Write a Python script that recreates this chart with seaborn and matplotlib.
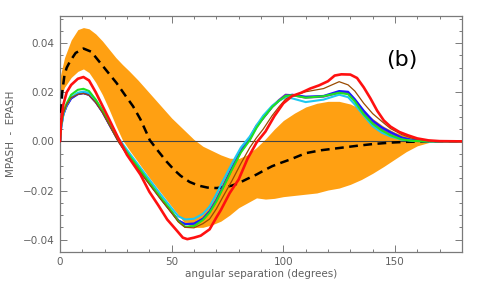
import numpy as np
import pandas as pd
import matplotlib
matplotlib.use("Agg")
import matplotlib.pyplot as plt
import seaborn as sns

# ---------------- data ----------------
# orange spread band
band_x = [0, 1, 2, 4, 6, 8, 11, 14, 18, 22, 26, 30, 34, 38, 42, 46, 50, 54, 58, 62,
          66, 70, 74, 78, 82, 86, 90, 93, 96, 100, 105, 110, 115, 120, 125, 130, 134,
          138, 142, 146, 150, 155, 160, 165, 170, 180]
band_hi = [0.026, 0.030, 0.034, 0.0395, 0.043, 0.0455, 0.0465, 0.0455, 0.042, 0.0375,
           0.033, 0.0295, 0.026, 0.0215, 0.018, 0.0135, 0.0095, 0.006, 0.0025, -0.001,
           -0.003, -0.0045, -0.0065, -0.0072, -0.0068, -0.004, -0.001, 0.002, 0.005,
           0.0085, 0.0115, 0.014, 0.0155, 0.0163, 0.0163, 0.0152, 0.0138, 0.0108,
           0.0078, 0.0055, 0.0037, 0.0022, 0.001, 0.0004, 0.0001, 0.0]
band_lo_x = [0, 2, 5, 8, 10.5, 13, 16, 19, 22, 25, 28, 31, 35, 40, 45, 50, 53, 56, 60,
             64, 68, 72, 76, 80, 84, 88, 92, 96, 100, 105, 110, 115, 120, 125, 130, 135,
             140, 145, 150, 155, 160, 165, 170, 180]
band_lo = [0.017, 0.022, 0.026, 0.0285, 0.0295, 0.028, 0.024, 0.019, 0.013, 0.0065,
           0.0005, -0.0035, -0.0085, -0.0148, -0.0207, -0.0265, -0.030, -0.0335, -0.035,
           -0.035, -0.034, -0.0325, -0.030, -0.027, -0.025, -0.023, -0.0235, -0.0232,
           -0.0225, -0.022, -0.0215, -0.021, -0.0198, -0.019, -0.0175, -0.0155, -0.013,
           -0.0102, -0.0072, -0.0042, -0.0018, -0.0005, -0.0001, 0.0]

# dashed mean curve
mean_x = [0, 0.5, 1, 2, 3, 4.5, 7, 10.5, 14, 18, 22, 25.3, 29, 32.7, 36, 38.7, 40.2, 44,
          47.6, 51, 54, 58, 62, 66, 70, 74, 77, 80, 84, 88, 92, 95, 99, 103, 110, 117,
          125, 133, 140, 148, 155, 165, 180]
mean_y = [0.0, 0.012, 0.02, 0.027, 0.030, 0.0326, 0.036, 0.0378, 0.0365, 0.032, 0.0275,
          0.0238, 0.019, 0.0143, 0.009, 0.0036, 0.0005, -0.004, -0.0081, -0.0115, -0.014,
          -0.0165, -0.018, -0.0188, -0.019, -0.0186, -0.018, -0.017, -0.0152, -0.0135,
          -0.0115, -0.0101, -0.0087, -0.0074, -0.0048, -0.0036, -0.0027, -0.0018,
          -0.0011, -0.0005, -0.0002, 0.0, 0.0]

# model curves (common angle grid)
ang = [0, 0.5, 1.5, 3, 5, 8, 10.5, 13, 16, 19, 22, 26, 30, 35, 40, 45, 50, 53, 56, 60,
       64, 67, 70, 73, 77, 81, 85, 88, 91, 95, 98, 101, 104, 110, 118, 125, 129, 132,
       136, 140, 144, 148, 153, 158, 165, 180]
purple = [0, 0.006, 0.011, 0.0145, 0.0175, 0.0192, 0.0196, 0.0189, 0.016, 0.012, 0.007,
          0.0005, -0.005, -0.011, -0.017, -0.023, -0.0288, -0.0322, -0.0337, -0.0335,
          -0.0315, -0.0285, -0.024, -0.0185, -0.0108, -0.0035, 0.0015, 0.0065, 0.0095,
          0.0142, 0.0168, 0.019, 0.0188, 0.0178, 0.0182, 0.0198, 0.0196, 0.0168, 0.012,
          0.008, 0.0052, 0.0034, 0.0014, 0.0004, 0.0, 0.0]
blue = [0, 0.006, 0.011, 0.0145, 0.0175, 0.0193, 0.0197, 0.019, 0.016, 0.012, 0.007,
        0.0005, -0.005, -0.011, -0.017, -0.023, -0.0288, -0.0322, -0.0337, -0.0335,
        -0.0315, -0.0285, -0.024, -0.0185, -0.011, -0.004, 0.001, 0.006, 0.0095, 0.014,
        0.0165, 0.0185, 0.019, 0.0182, 0.0185, 0.0205, 0.0202, 0.0172, 0.0125, 0.0085,
        0.0058, 0.0038, 0.0016, 0.0005, 0.0001, 0.0]
cyan = [0, 0.005, 0.011, 0.015, 0.018, 0.0198, 0.0203, 0.0197, 0.0168, 0.0128, 0.008,
        0.0015, -0.0035, -0.0095, -0.0155, -0.0215, -0.0272, -0.0305, -0.0318, -0.0315,
        -0.0295, -0.0265, -0.0215, -0.016, -0.009, -0.0025, 0.002, 0.0065, 0.0105,
        0.0145, 0.0165, 0.018, 0.0175, 0.016, 0.017, 0.019, 0.018, 0.015, 0.0105,
        0.0062, 0.0036, 0.002, 0.0007, 0.0002, 0.0, 0.0]
green = [0, 0.007, 0.012, 0.0155, 0.019, 0.021, 0.0214, 0.0205, 0.017, 0.0125, 0.0075,
         0.001, -0.0045, -0.0105, -0.0168, -0.0228, -0.0285, -0.0325, -0.0348, -0.0345,
         -0.032, -0.029, -0.0245, -0.019, -0.0115, -0.0045, 0.0005, 0.0055, 0.0095,
         0.014, 0.0165, 0.0185, 0.0188, 0.0178, 0.0184, 0.0198, 0.0192, 0.0163, 0.011,
         0.0072, 0.0045, 0.0025, 0.0008, 0.0002, 0.0, 0.0]
brown = [0, 0.006, 0.0115, 0.015, 0.0178, 0.0192, 0.0195, 0.0188, 0.0158, 0.0118,
         0.0068, 0.0, -0.0055, -0.0115, -0.0175, -0.0235, -0.0292, -0.0328, -0.035,
         -0.0352, -0.0335, -0.0316, -0.0275, -0.0225, -0.016, -0.009, -0.0025, 0.0015,
         0.005, 0.0105, 0.014, 0.0172, 0.0186, 0.0202, 0.0215, 0.0243, 0.023, 0.0205,
         0.0155, 0.0113, 0.0082, 0.0052, 0.0028, 0.0012, 0.0003, 0.0]

red_x = [0, 0.5, 1.5, 3, 5, 8, 10.5, 13, 16, 19, 22, 26, 30, 33, 36, 40, 44, 48, 52, 55,
         57, 60, 63, 67, 70, 72, 76, 80, 84, 88, 92, 96, 100, 104, 108, 112, 116, 120,
         123, 126, 130, 133, 136, 139, 142, 145, 148, 152, 156, 160, 165, 170, 180]
red_y = [0, 0.008, 0.015, 0.020, 0.023, 0.0255, 0.0262, 0.0248, 0.020, 0.0145, 0.009,
         0.0015, -0.0055, -0.0095, -0.0135, -0.0205, -0.026, -0.0318, -0.036, -0.0392,
         -0.0398, -0.0392, -0.0384, -0.0358, -0.031, -0.028, -0.021, -0.0155, -0.007,
         -0.0005, 0.004, 0.0103, 0.0155, 0.0185, 0.0198, 0.0215, 0.0228, 0.0245, 0.0268,
         0.0273, 0.0272, 0.0258, 0.022, 0.0175, 0.0125, 0.0085, 0.006, 0.0038, 0.0024,
         0.0012, 0.0004, 0.0001, 0.0]

xticks = [0, 50, 100, 150]
yticks = [-0.04, -0.02, 0.00, 0.02, 0.04]
ytick_labels = ["\u22120.04", "\u22120.02", "0.00", "0.02", "0.04"]

# ---------------- plot ----------------
sns.set_theme(style="ticks")
plt.rcParams["font.family"] = ["DejaVu Sans"]

fig = plt.figure(figsize=(4.8, 2.84), dpi=100)
ax = fig.add_axes([0.125, 0.113, 0.8375, 0.832])

orange = "#ffa012"
hi = np.interp(band_lo_x, band_x, band_hi)
ax.fill_between(band_lo_x, band_lo, hi, color=orange, lw=0, zorder=1)

ax.axhline(0, color="#444444", lw=0.8, zorder=2)

sns.lineplot(x=mean_x, y=mean_y, ax=ax, color="black", lw=1.8,
             dashes=False, zorder=3).lines[-1].set_dashes((3.5, 2.2))

curves = [(purple, "#7b2fbe", 1.5), (blue, "#1a1aff", 1.5), (cyan, "#1ec8f0", 1.5),
          (green, "#20e020", 1.5), (brown, "#9a4a00", 0.9)]
for vals, col, lw in curves:
    sns.lineplot(x=ang, y=vals, ax=ax, color=col, lw=lw, zorder=4)
sns.lineplot(x=red_x, y=red_y, ax=ax, color="#ff1010", lw=1.9, zorder=5)

ax.set_xlim(0, 180)
ax.set_ylim(-0.0446, 0.0512)
ax.set_xticks(xticks)
ax.set_xticklabels([str(t) for t in xticks])
ax.set_yticks(yticks)
ax.set_yticklabels(ytick_labels)
ax.set_xticks(np.arange(0, 181, 10), minor=True)
ax.set_yticks(np.arange(-0.045, 0.0515, 0.005), minor=True)

grey = "#7a7a7a"
for s in ax.spines.values():
    s.set_color(grey)
    s.set_linewidth(0.9)
ax.tick_params(which="both", direction="in", top=True, right=True, colors=grey,
               labelcolor="#606060", labelsize=7.5, width=0.7)
ax.tick_params(which="major", length=5, pad=4)
ax.tick_params(which="minor", length=2.5)

ax.set_xlabel("angular separation (degrees)", fontsize=7.5, color="#606060", labelpad=1)
ax.set_ylabel("MPASH  -  EPASH", fontsize=7.5, color="#606060", labelpad=5)

ax.text(153, 0.033, "(b)", fontsize=16, color="black", ha="center", va="center")

fig.savefig("out.png", dpi=100)
